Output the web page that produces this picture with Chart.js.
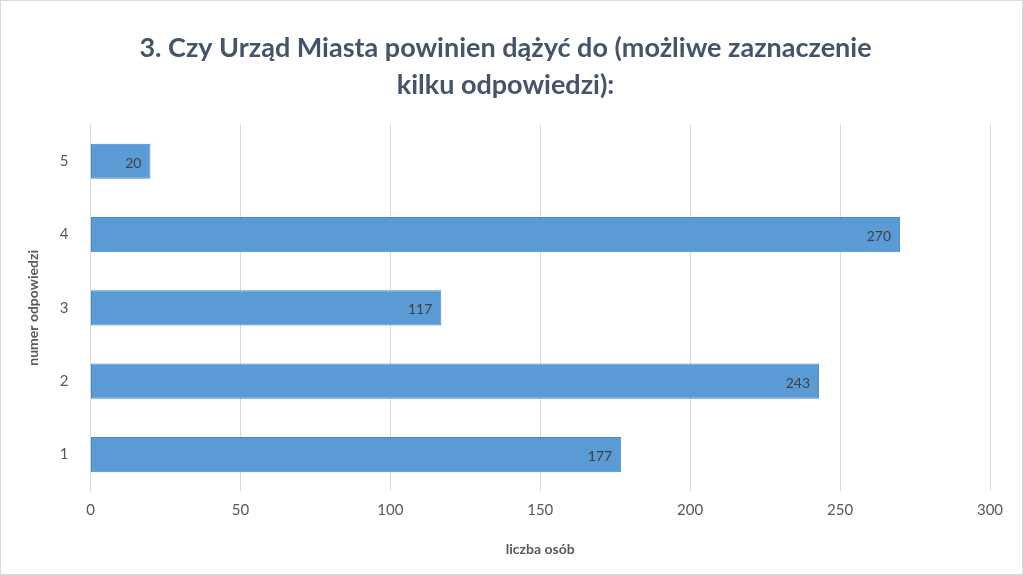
<!DOCTYPE html>
<html><head><meta charset="utf-8">
<script src="https://cdn.jsdelivr.net/npm/chart.js@4"></script>
<style>
html,body{margin:0;padding:0;background:#fff}
#wrap{position:absolute;left:0;top:0;width:1021px;height:573px;border:1px solid #d9d9d9}
</style></head><body>
<div id="wrap"><canvas id="c" width="1021" height="573"></canvas></div>
<script>
const categories = ['5','4','3','2','1'];
const values = [20, 270, 117, 243, 177];
const xTicks = [0, 50, 100, 150, 200, 250, 300];
const titleLines = ['3. Czy Urząd Miasta powinien dążyć do (możliwe zaznaczenie', 'kilku odpowiedzi):'];

const labelPlugin = {
  id: 'lbl',
  afterDatasetsDraw(chart) {
    const ctx = chart.ctx;
    const meta = chart.getDatasetMeta(0);
    ctx.save();
    ctx.font = '14px Lato, "Liberation Sans", sans-serif';
    ctx.fillStyle = '#404040';
    ctx.textAlign = 'right';
    ctx.textBaseline = 'middle';
    meta.data.forEach((bar, i) => {
      ctx.fillText(String(values[i]), bar.x - 9, bar.y + 2);
    });
    ctx.restore();
  }
};

new Chart(document.getElementById('c'), {
  type: 'bar',
  data: { labels: categories, datasets: [{
    data: values,
    backgroundColor: (c) => {
      const el = c.element;
      const ch = c.chart;
      if (!el || !isFinite(el.y) || !el.height) return '#5B9BD5';
      const g = ch.ctx.createLinearGradient(0, el.y - el.height/2, 0, el.y + el.height/2);
      g.addColorStop(0, '#79b0e4'); g.addColorStop(1, '#3f80cb');
      return g;
    },
    borderColor: '#4a88cc', borderWidth: 1, borderSkipped: false,
    barPercentage: 0.48, categoryPercentage: 1
  }]},
  options: {
    indexAxis: 'y', responsive: false, animation: false,
    layout: { padding: { left: 20, right: 32, top: 10, bottom: 12 } },
    plugins: {
      legend: { display: false }, tooltip: { enabled: false },
      title: { display: true, text: titleLines, color: '#44546A',
        font: { family: 'Lato, "Liberation Sans", sans-serif', size: 27, weight: 'bold', lineHeight: 1.4 },
        padding: { top: 18, bottom: 20 } }
    },
    scales: {
      x: { min: 0, max: 300, afterBuildTicks: (s) => { s.ticks = xTicks.map(v => ({ value: v })); },
        grid: { color: '#d9d9d9', drawTicks: false }, border: { display: false },
        ticks: { color: '#595959', padding: 10, font: { family: 'Lato, "Liberation Sans", sans-serif', size: 15 } },
        title: { display: true, text: 'liczba osób', color: '#595959', padding: { top: 12 },
          font: { family: 'Lato, "Liberation Sans", sans-serif', size: 14, weight: 'bold' } } },
      y: { grid: { display: false }, border: { color: '#d9d9d9' },
        ticks: { color: '#595959', padding: 14, font: { family: 'Lato, "Liberation Sans", sans-serif', size: 15 } },
        title: { display: true, text: 'numer odpowiedzi', color: '#595959', padding: { bottom: 4 },
          font: { family: 'Lato, "Liberation Sans", sans-serif', size: 14, weight: 'bold' } } }
    }
  },
  plugins: [labelPlugin]
});
</script></body></html>
